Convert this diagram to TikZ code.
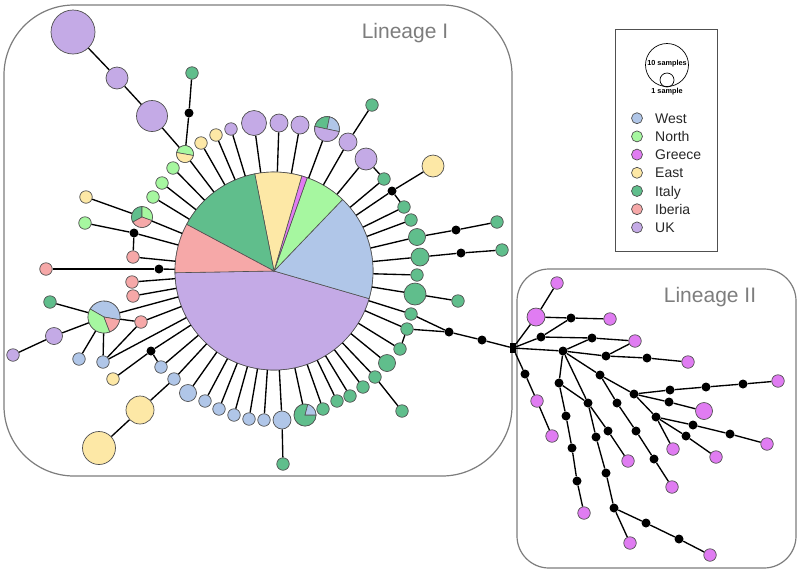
\documentclass[tikz,border=0pt]{standalone}
\usepackage{fontspec}
\setmainfont{Liberation Sans}
\usepackage{tikz}

\definecolor{westc}{RGB}{176,198,232}
\definecolor{northc}{RGB}{166,247,160}
\definecolor{greecec}{RGB}{224,124,242}
\definecolor{eastc}{RGB}{253,232,166}
\definecolor{italyc}{RGB}{96,190,140}
\definecolor{iberiac}{RGB}{246,168,168}
\definecolor{ukc}{RGB}{196,170,230}
\definecolor{outl}{RGB}{80,80,80}
\definecolor{boxc}{RGB}{125,125,125}

% one coloured sector of a haplotype pie
\newcommand{\hapslice}[5]{%
  \filldraw[fill=#5, draw=outl, line width=0.6pt] (#1.center) -- ++(#3:#2)
    arc[start angle=#3, end angle=#4, radius=#2] -- cycle;}

\tikzset{
  hap/.style={circle, draw=outl, line width=0.7pt, fill=#1, inner sep=0pt, minimum size=12.5pt},
  hap/.default=white,
  mv/.style={circle, fill=black, inner sep=0pt, minimum size=9pt},
  link/.style={line width=1.35pt},
  lineage/.style={draw=boxc, line width=1.2pt},
  lintext/.style={font=\fontsize{21}{25}\selectfont, text=boxc},
  keytext/.style={font=\fontsize{14}{16}\selectfont, text=black!85, inner sep=0pt, text height=10pt, text depth=0pt, anchor=west},
  tinytext/.style={font=\fontsize{7.3}{8}\selectfont\bfseries, inner sep=0pt},
}

\begin{document}
\begin{tikzpicture}[x=1pt, y=-1pt]
  \useasboundingbox (0,0) rectangle (800,574);
  % Lineage boxes
  \draw[lineage, rounded corners=70pt] (4,5) rectangle (512,476);
  \draw[lineage, rounded corners=32pt] (517,269) rectangle (796,568);
  \node[lintext] (lin1) at (405,33) {Lineage I};
  \node[lintext] (lin2) at (710,297) {Lineage II};

  % Lineage I haplotypes
  \node[hap, minimum size=198pt] (core) at (274,271) {};
  \node[hap=ukc, minimum size=44pt] (uk1) at (73,32) {};
  \node[hap=ukc, minimum size=22pt] (uk2) at (117,78) {};
  \node[hap=ukc, minimum size=31pt] (uk3) at (152,116) {};
  \node[hap, minimum size=17pt] (mix5) at (185,154) {};
  \node[mv] (mv1) at (189,113) {};
  \node[hap=italyc] (it1) at (192,73) {};
  \node[hap=eastc] (ea1) at (201,143) {};
  \node[hap=eastc] (ea2) at (216,135) {};
  \node[hap=ukc] (uk4) at (231,129) {};
  \node[hap=ukc, minimum size=25pt] (uk5) at (254,123) {};
  \node[hap=ukc, minimum size=18pt] (uk6) at (279,123) {};
  \node[hap=ukc, minimum size=18pt] (uk7) at (300,125) {};
  \node[hap, minimum size=25pt] (mix1) at (327,129) {};
  \node[hap=ukc, minimum size=18pt] (uk8) at (348,142) {};
  \node[hap=italyc] (it2) at (372,105) {};
  \node[hap=ukc, minimum size=22pt] (uk9) at (366,159) {};
  \node[hap=italyc] (it3) at (384,179) {};
  \node[mv] (mv2) at (392,191) {};
  \node[hap=eastc, minimum size=22pt] (ea3) at (433,166) {};
  \node[hap=italyc] (it4) at (404,207) {};
  \node[hap=italyc] (it5) at (411,220) {};
  \node[hap=italyc, minimum size=17pt] (it6) at (417,237) {};
  \node[mv] (mv3) at (456,230) {};
  \node[hap=italyc] (it7) at (497,222) {};
  \node[hap=italyc, minimum size=18pt] (it8) at (420,257) {};
  \node[mv] (mv4) at (461,253) {};
  \node[hap=italyc] (it9) at (502,250) {};
  \node[hap=italyc] (it10) at (417,275) {};
  \node[hap=italyc, minimum size=22pt] (it11) at (415,294) {};
  \node[hap=italyc] (it12) at (458,301) {};
  \node[hap=italyc] (it13) at (411,314) {};
  \node[hap=italyc] (it14) at (407,329) {};
  \node[mv] (mv5) at (449,332) {};
  \node[mv] (mv6) at (482,340) {};
  \node[fill=black, inner sep=0pt, minimum width=6pt, minimum height=10pt] (jn) at (513,348) {};
  \node[hap=italyc] (it15) at (400,349) {};
  \node[hap=italyc, minimum size=17pt] (it16) at (387,363) {};
  \node[hap=italyc] (it17) at (375,377) {};
  \node[hap=italyc] (it18) at (402,411) {};
  \node[hap=italyc] (it19) at (363,387) {};
  \node[hap=italyc] (it20) at (350,396) {};
  \node[hap=italyc] (it21) at (337,401) {};
  \node[hap=italyc] (it22) at (323,409) {};
  \node[hap, minimum size=22pt] (mix2) at (305,415) {};
  \node[hap=westc, minimum size=18pt] (we1) at (282,420) {};
  \node[hap=italyc] (it23) at (283,464) {};
  \node[hap=westc] (we2) at (264,420) {};
  \node[hap=westc] (we3) at (249,419) {};
  \node[hap=westc] (we4) at (234,415) {};
  \node[hap=westc] (we5) at (219,409) {};
  \node[hap=westc] (we6) at (205,401) {};
  \node[hap=westc, minimum size=17pt] (we7) at (188,393) {};
  \node[hap=westc] (we8) at (174,379) {};
  \node[hap=eastc, minimum size=28pt] (ea4) at (140,410) {};
  \node[hap=eastc, minimum size=33pt] (ea5) at (99,448) {};
  \node[hap=westc] (we9) at (161,367) {};
  \node[mv] (mv7) at (151,351) {};
  \node[hap=eastc] (ea6) at (113,379) {};
  \node[hap=westc] (we10) at (103,362) {};
  \node[hap=westc] (we11) at (79,359) {};
  \node[hap=iberiac] (ib1) at (141,322) {};
  \node[hap, minimum size=32pt] (mix4) at (104,317) {};
  \node[hap=italyc] (it24) at (50,302) {};
  \node[hap=ukc, minimum size=17pt] (uk10) at (54,336) {};
  \node[hap=ukc] (uk11) at (13,355) {};
  \node[hap=iberiac] (ib2) at (133,296) {};
  \node[hap=iberiac] (ib3) at (132,282) {};
  \node[mv] (mv8) at (159,269) {};
  \node[hap=iberiac] (ib4) at (46,269) {};
  \node[hap=iberiac] (ib5) at (133,257) {};
  \node[mv] (mv9) at (134,233) {};
  \node[hap=northc] (no1) at (85,223) {};
  \node[hap, minimum size=21pt] (mix3) at (142,217) {};
  \node[hap=eastc] (ea7) at (86,197) {};
  \node[hap=northc] (no2) at (153,197) {};
  \node[hap=northc] (no3) at (162,183) {};
  \node[hap=northc] (no4) at (173,168) {};

  % Pies
  \hapslice{core}{99pt}{181}{343.8}{ukc}
  \hapslice{core}{99pt}{-16.2}{46.2}{westc}
  \hapslice{core}{99pt}{46.2}{70.4}{northc}
  \hapslice{core}{99pt}{70.4}{73.7}{greecec}
  \hapslice{core}{99pt}{73.7}{101.2}{eastc}
  \hapslice{core}{99pt}{101.2}{151.9}{italyc}
  \hapslice{core}{99pt}{151.9}{181}{iberiac}
  \hapslice{mix1}{12.5pt}{78}{168}{italyc}
  \hapslice{mix1}{12.5pt}{-12}{78}{westc}
  \hapslice{mix1}{12.5pt}{168}{348}{ukc}
  \hapslice{mix2}{11pt}{75}{360}{italyc}
  \hapslice{mix2}{11pt}{0}{75}{westc}
  \hapslice{mix3}{10.5pt}{90}{209}{italyc}
  \hapslice{mix3}{10.5pt}{-20}{90}{northc}
  \hapslice{mix3}{10.5pt}{209}{340}{iberiac}
  \hapslice{mix4}{16pt}{-10}{150}{westc}
  \hapslice{mix4}{16pt}{150}{291}{northc}
  \hapslice{mix4}{16pt}{291}{350}{iberiac}
  \hapslice{mix5}{8.5pt}{-10}{170}{northc}
  \hapslice{mix5}{8.5pt}{170}{350}{eastc}

  % Spokes from the central haplotype
  \foreach \leaf in {no4,no3,no2,mix3,mv9,ib5,mv8,ib3,ib2,mix4,ib1,we10,mv7,we9,
      we8,we7,we6,we5,we4,we3,we2,we1,mix2,it22,it21,it20,it19,it17,it16,it15,
      it14,it13,it11,it10,it8,it6,it5,it4,mv2,it3,uk9,uk8,mix1,uk7,uk6,uk5,uk4,ea2,ea1,mix5}
    \draw[link] (core) -- (\leaf);
  % Side branches
  \draw[link] (uk1) -- (uk2) -- (uk3) -- (mix5) -- (mv1) -- (it1);
  \draw[link] (it2) -- (uk8);
  \draw[link] (uk9) -- (it3);
  \draw[link] (ea3) -- (mv2) -- (it4);
  \draw[link] (it6) -- (mv3) -- (it7);
  \draw[link] (it8) -- (mv4) -- (it9);
  \draw[link] (it11) -- (it12);
  \draw[link] (it13) -- (mv5) -- (mv6) -- (jn);
  \draw[link] (it14) -- (mv5);
  \draw[link] (it14) -- (it15);
  \draw[link] (it17) -- (it18);
  \draw[link] (we1) -- (it23);
  \draw[link] (we8) -- (ea4) -- (ea5);
  \draw[link] (ea6) -- (mv7) -- (we9);
  \draw[link] (mix4) -- (we10) -- (ib1) -- (mix4);
  \draw[link] (mix4) -- (we11);
  \draw[link] (it24) -- (mix4) -- (uk10) -- (uk11);
  \draw[link] (ib4) -- (mv8);
  \draw[link] (no1) -- (mv9) -- (ib5);
  \draw[link] (ea7) -- (mix3);

  % Lineage II haplotypes
  \node[hap=greecec] (gr1) at (557,283) {};
  \node[hap=greecec, minimum size=18pt] (gr2) at (536,317) {};
  \node[mv] (m1) at (571,318) {};
  \node[hap=greecec] (gr3) at (610,319) {};
  \node[mv] (m2) at (541,337) {};
  \node[mv] (m3) at (592,338) {};
  \node[hap=greecec] (gr4) at (635,341) {};
  \node[mv] (m4) at (563,351) {};
  \node[mv] (m5) at (606,356) {};
  \node[mv] (m6) at (647,358) {};
  \node[hap=greecec] (gr5) at (688,362) {};
  \node[mv] (m7) at (525,374) {};
  \node[hap=greecec] (gr6) at (537,401) {};
  \node[hap=greecec] (gr7) at (552,436) {};
  \node[mv] (m8) at (559,383) {};
  \node[mv] (m9) at (566,416) {};
  \node[mv] (m10) at (572,448) {};
  \node[mv] (m11) at (577,481) {};
  \node[hap=greecec] (gr8) at (584,513) {};
  \node[mv] (m12) at (588,403) {};
  \node[mv] (m13) at (608,431) {};
  \node[hap=greecec] (gr9) at (628,461) {};
  \node[mv] (m14) at (596,437) {};
  \node[mv] (m15) at (606,473) {};
  \node[mv] (m16) at (614,508) {};
  \node[hap=greecec] (gr10) at (630,543) {};
  \node[mv] (m17) at (646,523) {};
  \node[mv] (m18) at (679,539) {};
  \node[hap=greecec] (gr11) at (710,555) {};
  \node[mv] (m19) at (600,375) {};
  \node[mv] (m20) at (617,403) {};
  \node[mv] (m21) at (636,431) {};
  \node[mv] (m22) at (654,459) {};
  \node[hap=greecec] (gr12) at (672,487) {};
  \node[mv] (m23) at (634,394) {};
  \node[mv] (m24) at (670,390) {};
  \node[mv] (m25) at (706,387) {};
  \node[mv] (m26) at (743,384) {};
  \node[hap=greecec] (gr13) at (778,381) {};
  \node[mv] (m27) at (669,402) {};
  \node[hap=greecec, minimum size=17pt] (gr14) at (704,411) {};
  \node[mv] (m28) at (656,417) {};
  \node[mv] (m29) at (693,425) {};
  \node[mv] (m30) at (730,434) {};
  \node[hap=greecec] (gr15) at (767,444) {};
  \node[mv] (m31) at (686,436) {};
  \node[hap=greecec] (gr16) at (716,457) {};
  \node[hap=greecec] (gr17) at (673,449) {};

  % Lineage II links
  \draw[link] (jn) -- (gr2) -- (gr1);
  \draw[link] (gr2) -- (m1) -- (gr3);
  \draw[link] (jn) -- (m2) -- (m3) -- (gr4);
  \draw[link] (m2) -- (m1);
  \draw[link] (jn) -- (m4) -- (m5) -- (m6) -- (gr5);
  \draw[link] (m4) -- (m3);
  \draw[link] (m5) -- (gr4);
  \draw[link] (jn) -- (m7) -- (gr6) -- (gr7);
  \draw[link] (m4) -- (m8) -- (m9) -- (m10) -- (m11) -- (gr8);
  \draw[link] (m8) -- (m12) -- (m13) -- (gr9);
  \draw[link] (m4) -- (m12) -- (m14) -- (m15) -- (m16) -- (m17) -- (m18) -- (gr11);
  \draw[link] (m16) -- (gr10);
  \draw[link] (m4) -- (m19) -- (m23);
  \draw[link] (m19) -- (m20) -- (m21) -- (m22) -- (gr12);
  \draw[link] (m23) -- (m24) -- (m25) -- (m26) -- (gr13);
  \draw[link] (m23) -- (m27) -- (gr14);
  \draw[link] (m23) -- (m28) -- (m29) -- (m30) -- (gr15);
  \draw[link] (m28) -- (m31) -- (gr16);
  \draw[link] (m28) -- (gr17);

  % Legend
  \draw[draw=outl, line width=1pt] (615,29) rectangle (717,251);
  \node[circle, draw=black, line width=0.7pt, inner sep=0pt, minimum size=43pt] (ten) at (667,65) {};
  \node[circle, draw=black, line width=0.7pt, inner sep=0pt, minimum size=14pt] (one) at (667,80) {};
  \node[tinytext] (tenlab) at (667,64) {10 samples};
  \node[tinytext] (onelab) at (667,92) {1 sample};
  \foreach \c/\t [count=\i] in {westc/West,northc/North,greecec/Greece,eastc/East,
      italyc/Italy,iberiac/Iberia,ukc/UK}{
    \node[hap=\c, minimum size=11pt] (key\i) at (637,{100+18.2*\i}) {};
    \node[keytext] (lab\i) at (655,{100+18.2*\i}) {\t};
  }
\end{tikzpicture}
\end{document}
